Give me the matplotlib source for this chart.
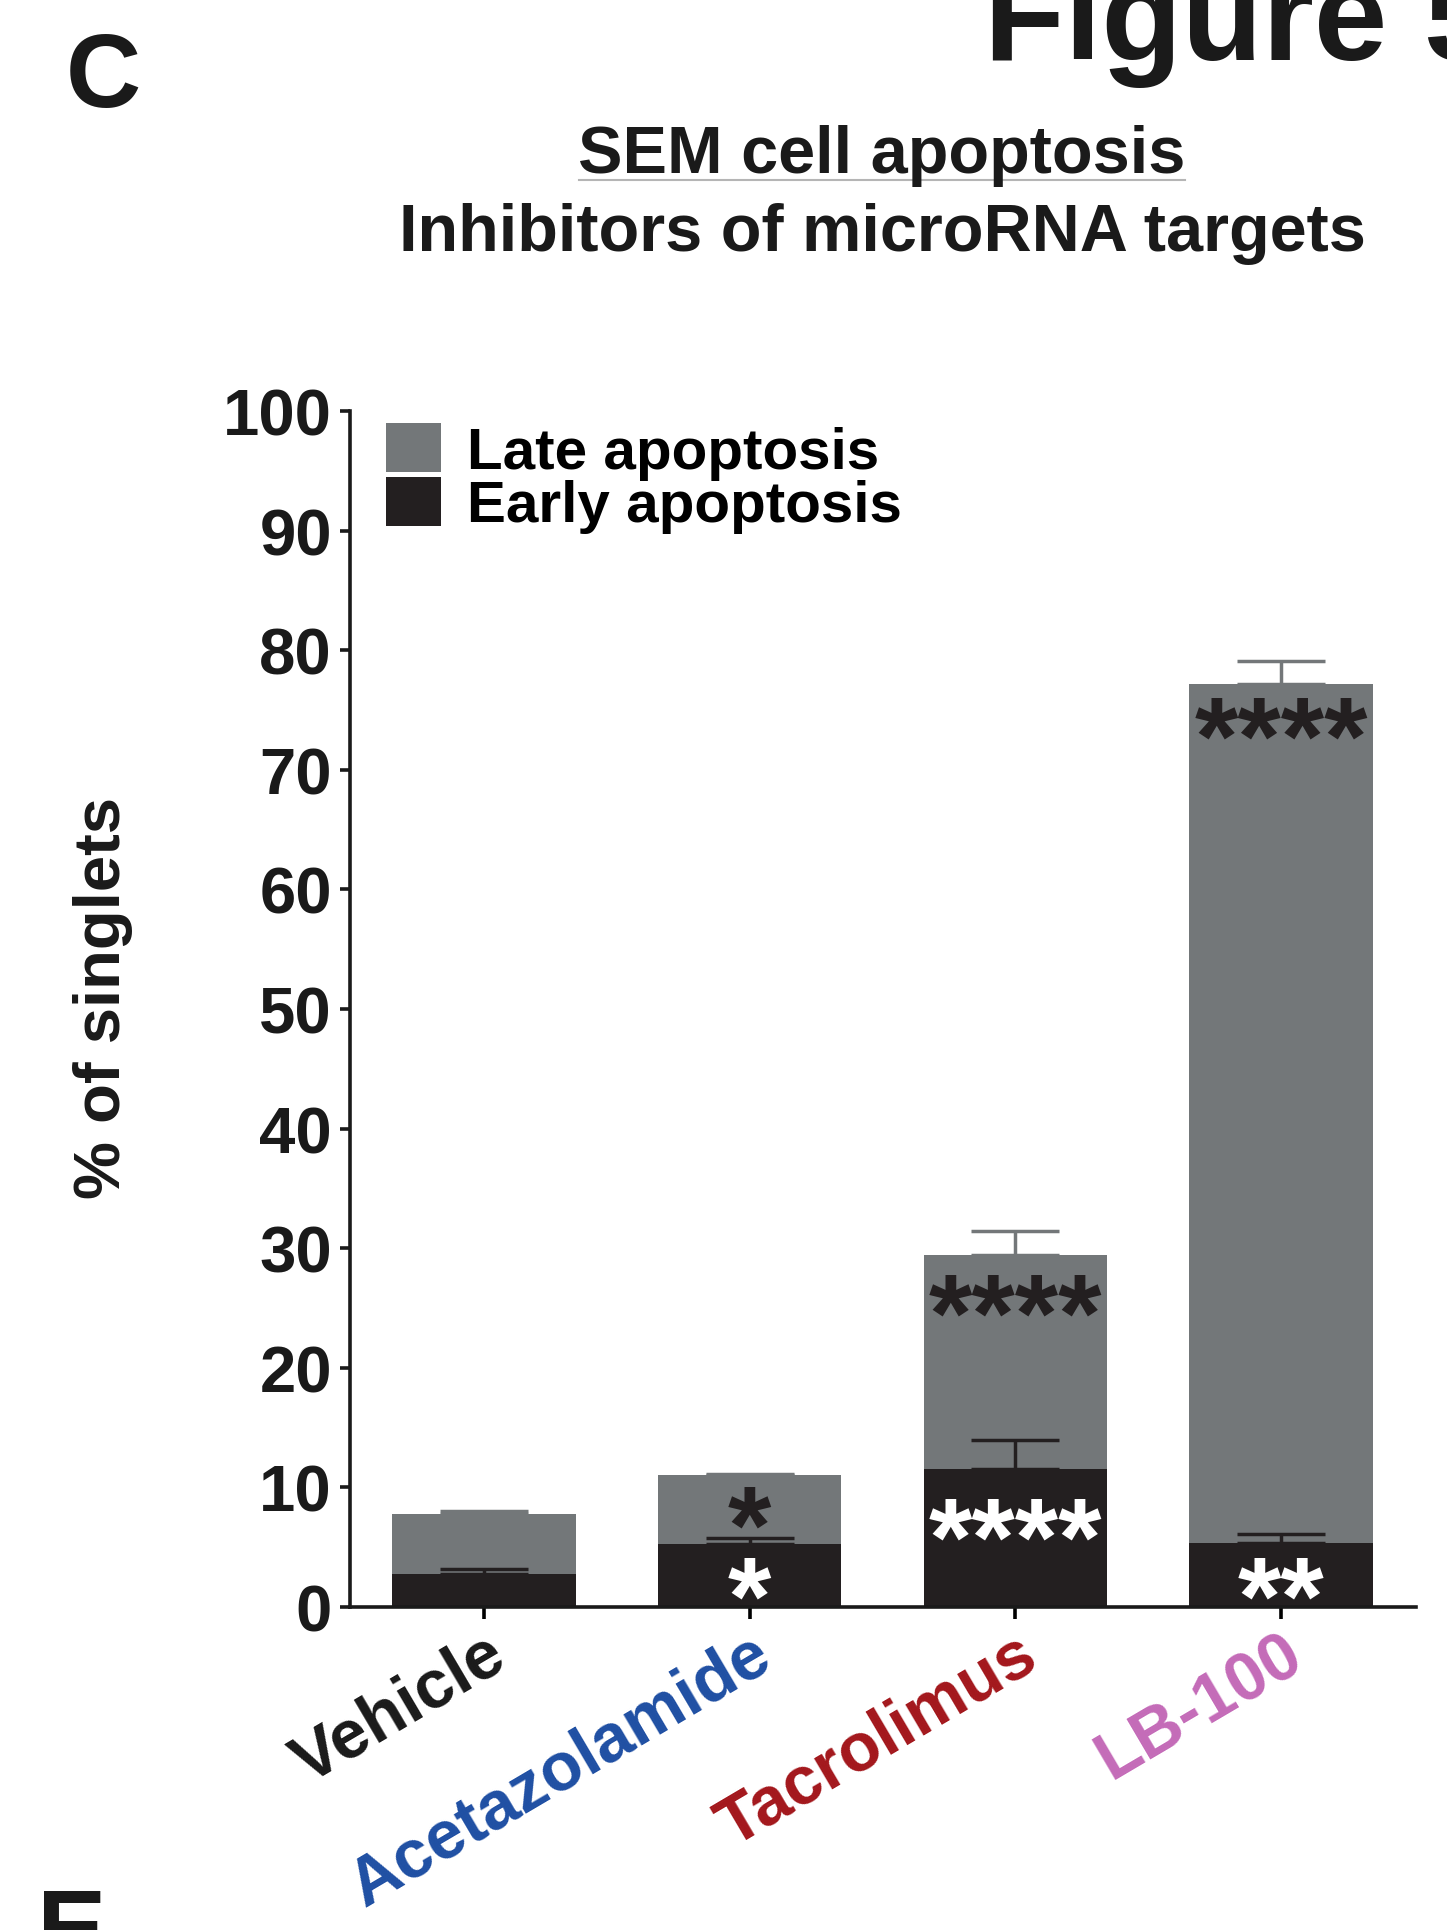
import matplotlib
matplotlib.use("Agg")
import matplotlib.pyplot as plt
import matplotlib.transforms as mtransforms
from matplotlib.lines import Line2D
import numpy as np

plt.rcParams['font.family'] = ['Liberation Sans', 'DejaVu Sans']
plt.rcParams['font.weight'] = 'bold'

# ---------------- data ----------------
categories = ['Vehicle', 'Acetazolamide', 'Tacrolimus', 'LB-100']
label_colors = ['#1a1a1a', '#1f4fa3', '#a3171c', '#c46bb8']
early = [2.8, 5.25, 11.5, 5.35]          # Early apoptosis (%)
early_err = [0.4, 0.55, 2.5, 0.75]
late = [5.0, 5.75, 17.95, 71.85]         # Late apoptosis (%) stacked on early
total_err = [0.25, 0.1, 1.95, 1.9]
yticks = [0, 10, 20, 30, 40, 50, 60, 70, 80, 90, 100]

# significance marks: (bar index, y centre, text, colour)
star_bar = [1, 1, 2, 2, 3, 3]
star_y = [8.3, 2.35, 26.0, 7.3, 74.2, 2.35]
star_txt = ['*', '*', '****', '****', '****', '**']
star_col = ['#231f20', 'white', '#231f20', 'white', '#231f20', 'white']

c_grey = '#737779'
c_black = '#231f20'

W, H, DPI = 1447, 1931, 100
fig = plt.figure(figsize=(W / DPI, H / DPI), dpi=DPI)
ax = fig.add_axes([350 / W, (H - 1608) / H, (1416 - 350) / W, (1608 - 412) / H])

x = np.arange(len(categories))
total = np.array(early) + np.array(late)
bw = 0.69
ax.bar(x, early, width=bw, color=c_black, zorder=2, label='Early apoptosis')
ax.bar(x, late, bottom=early, width=bw, color=c_grey, zorder=2, label='Late apoptosis')

ax.errorbar(x, total, yerr=[np.zeros(len(x)), total_err], fmt='none',
            ecolor=c_grey, elinewidth=2.5, capsize=32, capthick=2.5, zorder=1)
ax.errorbar(x, early, yerr=[np.zeros(len(x)), early_err], fmt='none',
            ecolor=c_black, elinewidth=2.5, capsize=32, capthick=2.5, zorder=3)

star_fs = 80
for b, yv, t, c in zip(star_bar, star_y, star_txt, star_col):
    ax.annotate(t, xy=(x[b], yv), xytext=(0, -0.49 * star_fs), textcoords='offset points',
                ha='center', va='baseline', fontsize=star_fs, color=c,
                fontweight='bold', zorder=5)

ax.set_xlim(-0.504, 3.508)
ax.set_ylim(0, 100)
ax.set_yticks(yticks)
ax.set_yticklabels([str(v) for v in yticks])
ax.set_xticks(x)
ax.set_xticklabels(categories, rotation=30.5, ha='right', va='top', rotation_mode='anchor')
for lab, col in zip(ax.get_xticklabels(), label_colors):
    lab.set_color(col)
    lab.set_transform(lab.get_transform() + mtransforms.ScaledTranslation(22 / DPI, 0, fig.dpi_scale_trans))

for s in ['top', 'right']:
    ax.spines[s].set_visible(False)
for s in ['left', 'bottom']:
    ax.spines[s].set_linewidth(2.6)
    ax.spines[s].set_color('#1a1a1a')
ax.tick_params(axis='y', length=7, width=2.6, labelsize=47, pad=6, colors='#1a1a1a')
ax.tick_params(axis='x', length=8.5, width=2.6, labelsize=49, pad=2)
for lab, col in zip(ax.get_xticklabels(), label_colors):
    lab.set_color(col)

ax.set_ylabel('% of singlets', fontsize=47, fontweight='bold', va='center', color='#1a1a1a')
ax.yaxis.set_label_coords((103 - 350) / 1068, 0.51)

handles, labels = ax.get_legend_handles_labels()
leg = ax.legend(handles[::-1], labels[::-1], loc='upper left',
                bbox_to_anchor=(0.0335, 0.99), frameon=False, fontsize=42,
                handlelength=0.95, handleheight=0.92, handletextpad=0.45,
                labelspacing=-0.05, borderpad=0, borderaxespad=0)

# titles
fig.text(882 / W, (H - 156) / H, 'SEM cell apoptosis', ha='center', va='center',
         fontsize=48, fontweight='bold', color='#1a1a1a')
fig.text(882 / W, (H - 234) / H, 'Inhibitors of microRNA targets', ha='center', va='center',
         fontsize=48, fontweight='bold', color='#1a1a1a')
fig.add_artist(Line2D([579 / W, 1185 / W], [(H - 181) / H, (H - 181) / H],
                      color='#b5b5b5', lw=1.5, transform=fig.transFigure))

# panel letters & figure header (partially cropped, as in the source page)
fig.text(66 / W, (H - 107) / H, 'C', ha='left', va='baseline', fontsize=75,
         fontweight='bold', color='#1a1a1a')
fig.text(37 / W, (H - 1963) / H, 'E', ha='left', va='baseline', fontsize=75,
         fontweight='bold', color='#1a1a1a')
fig.text(984 / W, (H - 60) / H, 'Figure 5', ha='left', va='baseline', fontsize=95,
         fontweight='bold', color='#1a1a1a')

fig.savefig('out.png', dpi=DPI, facecolor='white')
